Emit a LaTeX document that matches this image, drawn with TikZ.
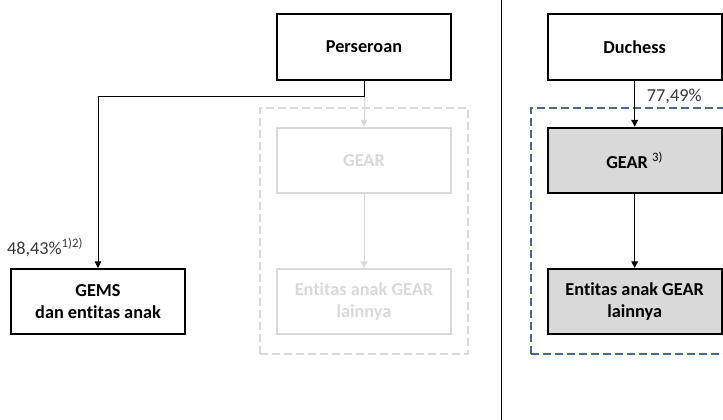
\documentclass[tikz,border=0pt]{standalone}
\usepackage{fontspec}
\setmainfont[Ligatures={NoCommon}]{Carlito}
\usetikzlibrary{arrows.meta, positioning, fit}
\definecolor{ghostgray}{RGB}{217,217,217}
\definecolor{shadegray}{RGB}{217,217,217}
\definecolor{frameblue}{RGB}{68,106,146}
\definecolor{pcttext}{RGB}{56,56,56}

\begin{document}
\begin{tikzpicture}[x=0.75pt, y=-0.75pt,
	node distance = 34.5pt and 67.5pt,
	entity/.style = {rectangle, draw, line width=1.5pt, minimum width=130.5pt,
		minimum height=49pt, inner sep=2pt, align=center,
		font=\fontsize{13.7}{16.5}\selectfont\bfseries},
	ghost/.style = {entity, draw=ghostgray, text=ghostgray},
	held/.style = {entity, fill=shadegray},
	link/.style = {-{Triangle[length=5pt, width=5pt]}, line width=0.75pt},
	share/.style = {font=\fontsize{13.7}{16.5}\selectfont, text=pcttext, inner sep=1pt},
	group/.style = {dash pattern=on 6pt off 3pt, line width=1.5pt,
		inner xsep=12pt, inner ysep=14pt}]

\useasboundingbox (0,0) rectangle (723,420);

% left side: Perseroan
\node[entity] (per) at (364,47) {Perseroan};
\node[ghost, below=of per]        (gear0) {GEAR};
\node[ghost, below=55.5pt of gear0] (sub0) {Entitas anak GEAR\\lainnya};
\node[entity, left=of sub0]       (gems) {GEMS\\dan entitas anak};

% right side: Duchess
\node[entity, right=71pt of per]   (duch) {Duchess};
\node[held, below=of duch]         (gear) {GEAR \textsuperscript{\mdseries 3)}};
\node[held, below=55.5pt of gear]  (sub)  {Entitas anak GEAR\\lainnya};

% dashed groups
\node[group, draw=ghostgray, fit=(gear0) (sub0)] (grp0) {};
\node[group, draw=frameblue, fit=(gear) (sub)]   (grp)  {};

% connectors
\coordinate[below=12pt of per.south] (fork);
\draw[link] (per.south) -- (fork) -| (gems.north);
\draw[link, ghostgray] (fork) -- (gear0.north);
\draw[link, ghostgray] (gear0) -- (sub0);
\draw[link] (duch) -- (gear);
\draw[link] (gear) -- (sub);

% shares
\node[share, above left=7pt and 10pt of gems.north] (p1) {48,43\%\textsuperscript{1)2)}};
\node[share, below right=5pt and 8pt of duch.south] (p2) {77,49\%};

% separator
\draw[line width=0.75pt] (501,0) -- (501,420);
\end{tikzpicture}
\end{document}
